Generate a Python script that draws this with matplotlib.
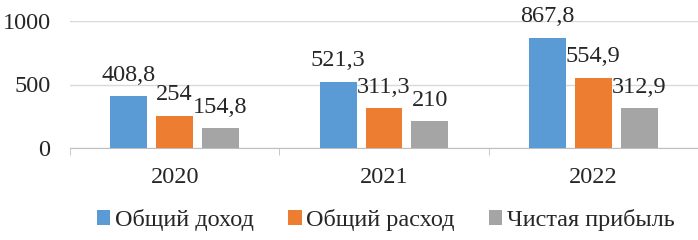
import matplotlib
matplotlib.use("Agg")
import matplotlib.pyplot as plt
import numpy as np
from matplotlib.patches import Patch

years = ["2020", "2021", "2022"]
series_names = ["Общий доход", "Общий расход", "Чистая прибыль"]
income = [408.8, 521.3, 867.8]
expense = [254, 311.3, 554.9]
profit = [154.8, 210, 312.9]
colors = ["#5B9BD5", "#ED7D31", "#A5A5A5"]
yticks = [0, 500, 1000]

plt.rcParams['font.family'] = ['Liberation Serif', 'DejaVu Serif']

fig = plt.figure(figsize=(6.98, 2.4), dpi=100)
ax = fig.add_axes([70/698, 1 - 148/240, 628/698, 127/240])

x = np.arange(len(years))
w = 0.176
step = 0.219
text_color = "#262626"
fs = 17.5
for i, (vals, c) in enumerate(zip([income, expense, profit], colors)):
    pos = x + (i - 1) * step
    ax.bar(pos, vals, width=w, color=c, zorder=3)
    for px, v in zip(pos, vals):
        lab = f"{v:g}".replace(".", ",")
        ax.annotate(lab, (px, v), xytext=(0, 15), textcoords="offset points",
                    ha="center", va="center", fontsize=fs, color=text_color)

ax.set_xlim(-0.5, len(years) - 0.5 + 0.0)
ax.set_ylim(0, 1000)
ax.set_yticks(yticks)
ax.set_yticklabels([str(t) for t in yticks])
ax.grid(axis="y", color="#D9D9D9", linewidth=1, zorder=0)
ax.set_xticks(x)
ax.set_xticklabels(years)
ax.set_xticks(np.arange(len(years) + 1) - 0.5, minor=True)
ax.tick_params(axis="x", which="major", length=0, pad=14, labelsize=fs, labelcolor=text_color)
ax.tick_params(axis="x", which="minor", length=5, color="#BFBFBF")
ax.tick_params(axis="y", length=0, pad=14, labelsize=fs, labelcolor=text_color)
for s in ["top", "right", "left"]:
    ax.spines[s].set_visible(False)
ax.spines["bottom"].set_color("#BFBFBF")

handles = [Patch(facecolor=c, edgecolor="none") for c in colors]
fig.legend(handles, series_names, loc="center", bbox_to_anchor=(0.553, 1 - 220/240),
           ncol=3, frameon=False, fontsize=fs, handlelength=0.55, handleheight=0.55,
           handletextpad=0.2, columnspacing=1.4, labelcolor=text_color)

fig.savefig("out.png", dpi=100)
